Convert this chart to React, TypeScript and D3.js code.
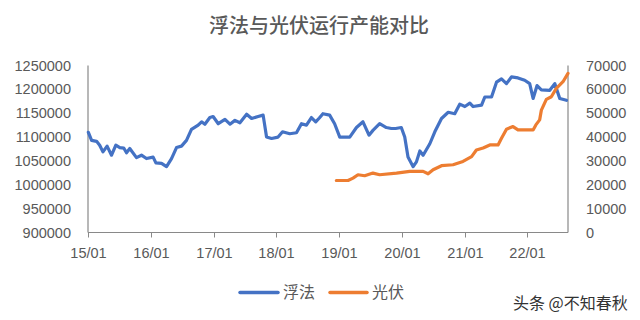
import React from "react";
import * as d3 from "d3";

const floatDates = [
  "2015-01-03","2015-01-22","2015-02-20","2015-03-10","2015-03-29","2015-04-22","2015-05-18","2015-06-12","2015-07-05","2015-07-28","2015-08-13","2015-09-01","2015-10-10","2015-11-08","2015-12-07",
  "2016-01-15","2016-01-31","2016-03-04","2016-04-02","2016-05-01","2016-05-30","2016-06-28","2016-07-27","2016-08-25","2016-10-03","2016-10-23","2016-11-11","2016-12-10","2016-12-29",
  "2017-01-28","2017-03-08","2017-04-06","2017-05-05","2017-06-03","2017-07-12","2017-08-10","2017-09-17","2017-10-16","2017-11-05","2017-12-04",
  "2018-01-11","2018-02-06","2018-03-20","2018-04-28","2018-05-27","2018-06-25","2018-07-24","2018-08-18","2018-09-08","2018-09-29","2018-11-07","2018-12-06",
  "2019-01-05","2019-03-04","2019-04-12","2019-05-20","2019-06-24","2019-07-17","2019-08-25","2019-10-03","2019-11-01","2019-11-26","2019-12-29",
  "2020-01-18","2020-02-06","2020-03-07","2020-03-26","2020-04-15","2020-05-04","2020-06-12","2020-07-11","2020-08-19","2020-09-27","2020-11-04","2020-12-03",
  "2021-01-02","2021-01-31","2021-02-19","2021-04-09","2021-04-28","2021-06-06","2021-07-05","2021-08-03","2021-09-01","2021-09-30","2021-11-07","2021-12-16",
  "2022-01-14","2022-02-03","2022-02-26","2022-03-23","2022-05-11","2022-06-09","2022-07-08","2022-08-16",
];
const floatValues = [
  1110000,1093000,1091000,1083000,1069000,1081000,1062000,1083000,1078000,1077000,1067000,1076000,1057000,1062000,1055000,
  1058000,1046000,1045000,1038000,1055000,1078000,1081000,1093000,1116000,1125000,1132000,1127000,1141000,1143000,
  1128000,1137000,1127000,1135000,1130000,1148000,1139000,1143000,1146000,1100000,1097000,
  1100000,1111000,1107000,1109000,1128000,1125000,1141000,1132000,1140000,1149000,1146000,1128000,
  1100000,1100000,1120000,1132000,1104000,1114000,1128000,1120000,1118000,1118000,1120000,
  1100000,1058000,1038000,1048000,1071000,1062000,1086000,1111000,1139000,1152000,1149000,1169000,
  1164000,1171000,1164000,1167000,1184000,1184000,1215000,1222000,1212000,1226000,1224000,1219000,
  1212000,1181000,1208000,1199000,1198000,1212000,1181000,1177000,
];

const pvDates = [
  "2018-12-16","2019-02-22","2019-03-23","2019-04-21","2019-05-30","2019-07-17","2019-08-25","2019-12-01",
  "2020-02-16","2020-05-04","2020-06-02","2020-07-01","2020-08-19","2020-10-25","2020-12-22",
  "2021-02-10","2021-03-10","2021-04-18","2021-05-27","2021-07-14","2021-08-03","2021-09-01","2021-10-09","2021-11-07",
  "2022-02-03","2022-02-19","2022-03-13","2022-03-23","2022-04-21","2022-05-20","2022-06-18","2022-07-27","2022-08-25",
];
const pvValues = [
  21800,21800,22800,24200,23800,24900,24200,24900,
  25600,25600,24600,26300,28000,28400,29800,
  31800,34600,35400,36700,36700,39500,43300,44400,43000,
  43000,45100,47200,51300,55800,56900,60400,63200,66700,
];

const leftTicks = [900000, 950000, 1000000, 1050000, 1100000, 1150000, 1200000, 1250000];
const rightTicks = [0, 10000, 20000, 30000, 40000, 50000, 60000, 70000];
const yearTicks = ["2015-01-01","2016-01-01","2017-01-01","2018-01-01","2019-01-01","2020-01-01","2021-01-01","2022-01-01"];

const title = "浮法与光伏运行产能对比";
const seriesNames = ["浮法", "光伏"];
const watermark = "头条 @不知春秋";

const parse = d3.timeParse("%Y-%m-%d");
const fmtX = d3.timeFormat("%y/%m");

export default function App() {
  const left = 88, right = 568, top = 65.5, bottom = 232.5;
  const x = d3.scaleTime().domain([parse("2015-01-01")!, parse("2022-08-25")!]).range([left, right]);
  const yL = d3.scaleLinear().domain([900000, 1250000]).range([bottom, top]);
  const yR = d3.scaleLinear().domain([0, 70000]).range([bottom, top]);

  const floatData = floatDates.map((d, i) => ({ d: parse(d)!, v: floatValues[i] }));
  const pvData = pvDates.map((d, i) => ({ d: parse(d)!, v: pvValues[i] }));

  const lineL = d3.line<{ d: Date; v: number }>().x(p => x(p.d)).y(p => yL(p.v));
  const lineR = d3.line<{ d: Date; v: number }>().x(p => x(p.d)).y(p => yR(p.v));

  const blue = "#4472C4";
  const orange = "#ED7D31";
  const text = "#595959";
  const axis = "#898989";
  const font = "'Liberation Sans', Arial, sans-serif";
  const cjk = "'Noto Sans CJK SC', sans-serif";

  return (
    <svg width={640} height={320} style={{ position: "absolute", left: 0, top: 0, background: "#fff" }}>
      <rect width={640} height={320} fill="#fff" />
      <text x={319} y={33} textAnchor="middle" fontFamily={cjk} fontSize={20} fontWeight={500} fill={text}>{title}</text>

      {leftTicks.map(t => (
        <text key={"l" + t} x={71} y={yL(t) + 5} textAnchor="end" fontFamily={font} fontSize={14.5} fill={text}>{t}</text>
      ))}
      {rightTicks.map(t => (
        <text key={"r" + t} x={586} y={yR(t) + 5} textAnchor="start" fontFamily={font} fontSize={14.5} fill={text}>{t}</text>
      ))}
      {yearTicks.map(t => {
        const xx = Math.round(x(parse(t)!)) + 0.5;
        return (
          <g key={t}>
            <line x1={xx} x2={xx} y1={bottom} y2={bottom + 5} stroke={axis} strokeWidth={1} />
            <text x={xx} y={258} textAnchor="middle" fontFamily={font} fontSize={14.5} fill={text}>{fmtX(parse(t)!)}</text>
          </g>
        );
      })}

      <line x1={left} x2={left} y1={top} y2={bottom} stroke={axis} strokeWidth={1.2} />
      <line x1={right} x2={right} y1={top} y2={bottom} stroke={axis} strokeWidth={1.2} />
      <line x1={left} x2={right} y1={bottom} y2={bottom} stroke={axis} strokeWidth={1.2} />

      <path d={lineL(floatData)!} fill="none" stroke={blue} strokeWidth={3.2} strokeLinejoin="round" strokeLinecap="round" />
      <path d={lineR(pvData)!} fill="none" stroke={orange} strokeWidth={3.2} strokeLinejoin="round" strokeLinecap="round" />

      <line x1={240} x2={278} y1={292.5} y2={292.5} stroke={blue} strokeWidth={3.5} strokeLinecap="round" />
      <text x={283} y={298} fontFamily={cjk} fontSize={16} fill={text}>{seriesNames[0]}</text>
      <line x1={330} x2={367} y1={292.5} y2={292.5} stroke={orange} strokeWidth={3.5} strokeLinecap="round" />
      <text x={372} y={298} fontFamily={cjk} fontSize={16} fill={text}>{seriesNames[1]}</text>

      <text x={513} y={309} fontFamily={cjk} fontSize={16} fill="#333">{watermark}</text>
    </svg>
  );
}
